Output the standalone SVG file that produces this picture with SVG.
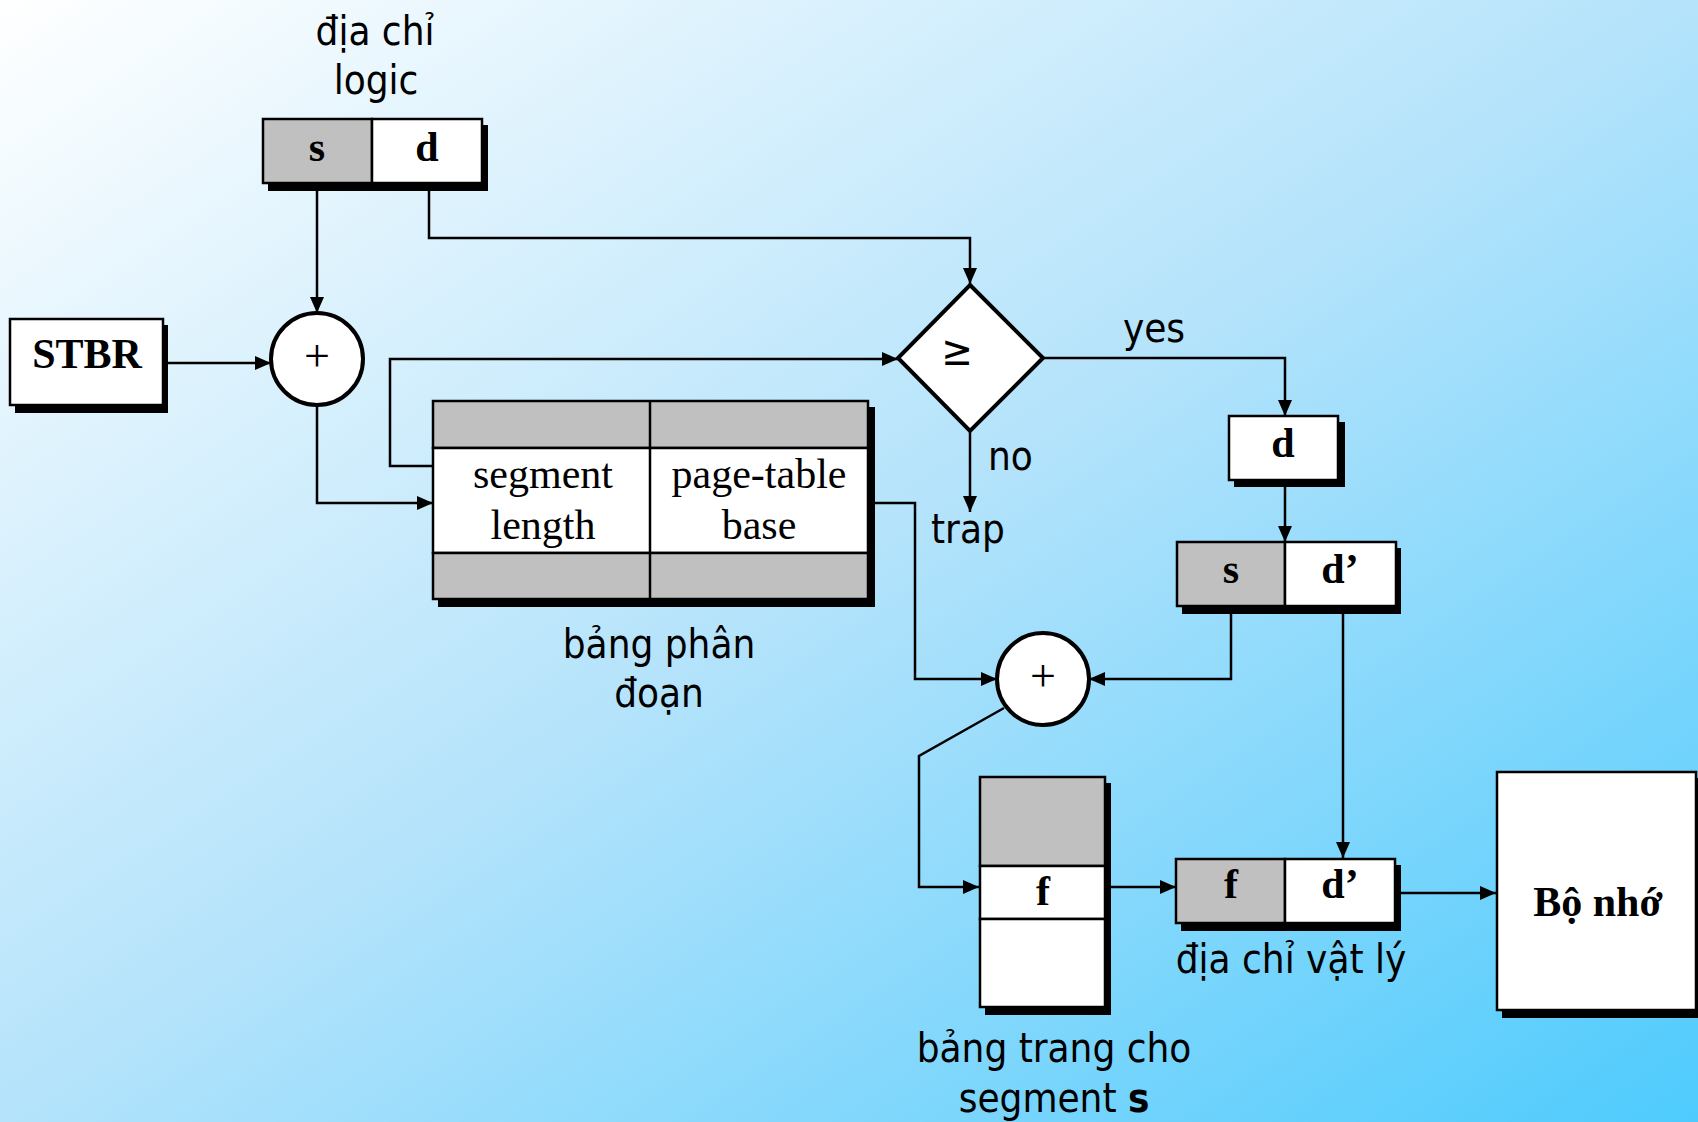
<svg xmlns="http://www.w3.org/2000/svg" width="1698" height="1122" viewBox="0 0 1698 1122">
<defs>
<linearGradient id="bg" x1="0" y1="0" x2="1" y2="1">
<stop offset="0" stop-color="#ffffff"/>
<stop offset="0.5" stop-color="#b4e3fb"/>
<stop offset="1" stop-color="#4ecbfd"/>
</linearGradient>
<marker id="arr" markerUnits="userSpaceOnUse" markerWidth="17" markerHeight="15" refX="16" refY="7" orient="auto">
<path d="M0,0 L16,7 L0,14 z" fill="#000"/>
</marker>
<style>
.sh{fill:#000}
.g{fill:#c0c0c0;stroke:#000;stroke-width:2.5}
.w{fill:#fff;stroke:#000;stroke-width:2.5}
.thick{fill:#fff;stroke:#000;stroke-width:4}
.bt{font-family:"Liberation Serif","Times New Roman",serif;font-weight:bold;font-size:42px;text-anchor:middle;fill:#000}
.rt{font-family:"Liberation Serif","Times New Roman",serif;font-size:42px;text-anchor:middle;fill:#000}
.lb{font-family:"DejaVu Sans Condensed","DejaVu Sans",sans-serif;font-stretch:condensed;font-size:40px;text-anchor:middle;fill:#000}
.ln{fill:none;stroke:#000;stroke-width:2.5;marker-end:url(#arr)}
.ln0{fill:none;stroke:#000;stroke-width:2.5}
</style>
</defs>
<rect x="0" y="0" width="1698" height="1122" fill="url(#bg)"/>

<g id="connectors">
<path class="ln" d="M317,186 V313"/>
<path class="ln" d="M163,363 H271"/>
<path class="ln" d="M429,186 V238 H970 V284"/>
<path class="ln" d="M317,405 V503 H433"/>
<path class="ln" d="M433,466 H390 V359 H898"/>
<path class="ln" d="M1043,358 H1285 V416"/>
<path class="ln" d="M970,431 V512"/>
<path class="ln" d="M1285,483 V542"/>
<path class="ln" d="M871,503 H915 V679 H997"/>
<path class="ln" d="M1231,609 V679 H1089"/>
<path class="ln" d="M1343,609 V858"/>
<path class="ln" d="M1004,708 L919,756 V887 H979"/>
<path class="ln" d="M1108,887 H1176"/>
<path class="ln" d="M1398,893 H1496"/>
</g>

<g id="logical-address">
<rect class="sh" x="268" y="125" width="220" height="66"/>
<rect class="g" x="263" y="119" width="109" height="64"/>
<rect class="w" x="372" y="119" width="110" height="64"/>
<text class="bt" x="317" y="161">s</text>
<text class="bt" x="427" y="161">d</text>
<text class="lb" x="375" y="45">địa chỉ</text>
<text class="lb" x="376" y="94">logic</text>
</g>

<g id="stbr">
<rect class="sh" x="15" y="325" width="153" height="88"/>
<rect class="w" x="10" y="319" width="153" height="86"/>
<text class="bt" x="87" y="368">STBR</text>
</g>

<g id="adder1">
<circle class="thick" cx="317" cy="359" r="46"/>
<text class="rt" x="317" y="371" style="font-size:46px">+</text>
</g>

<g id="segment-table">
<rect class="sh" x="438" y="407" width="437" height="200"/>
<rect class="g" x="433" y="401" width="435" height="47"/>
<rect class="w" x="433" y="448" width="435" height="105"/>
<rect class="g" x="433" y="553" width="435" height="46"/>
<line class="ln0" x1="650" y1="401" x2="650" y2="599"/>
<text class="rt" x="543" y="488">segment</text>
<text class="rt" x="543" y="539">length</text>
<text class="rt" x="759" y="488">page-table</text>
<text class="rt" x="759" y="539">base</text>
<text class="lb" x="659" y="658">bảng phân</text>
<text class="lb" x="659" y="707">đoạn</text>
</g>

<g id="compare">
<polygon class="thick" points="970,285 1043,358 970,431 898,358"/>
<text class="lb" x="957" y="365" style="font-size:42px">≥</text>
<text class="lb" x="1154" y="342">yes</text>
<text class="lb" x="988" y="470" style="text-anchor:start">no</text>
<text class="lb" x="931" y="543" style="text-anchor:start">trap</text>
</g>

<g id="d-box">
<rect class="sh" x="1234" y="422" width="111" height="65"/>
<rect class="w" x="1229" y="416" width="109" height="64"/>
<text class="bt" x="1283" y="457">d</text>
</g>

<g id="sd-box">
<rect class="sh" x="1182" y="548" width="219" height="66"/>
<rect class="g" x="1177" y="542" width="108" height="64"/>
<rect class="w" x="1285" y="542" width="111" height="64"/>
<text class="bt" x="1231" y="583">s</text>
<text class="bt" x="1340" y="583">d’</text>
</g>

<g id="adder2">
<circle class="thick" cx="1043" cy="679" r="46"/>
<text class="rt" x="1043" y="691" style="font-size:46px">+</text>
</g>

<g id="page-table">
<rect class="sh" x="985" y="783" width="126" height="232"/>
<rect class="g" x="980" y="777" width="125" height="89"/>
<rect class="w" x="980" y="866" width="125" height="53"/>
<rect class="w" x="980" y="919" width="125" height="88"/>
<text class="bt" x="1043" y="905">f</text>
<text class="lb" x="1054" y="1062">bảng trang cho</text>
<text class="lb" x="1054" y="1112">segment <tspan font-weight="bold">s</tspan></text>
</g>

<g id="physical-address">
<rect class="sh" x="1181" y="865" width="220" height="66"/>
<rect class="g" x="1176" y="859" width="109" height="64"/>
<rect class="w" x="1285" y="859" width="110" height="64"/>
<text class="bt" x="1231" y="898">f</text>
<text class="bt" x="1340" y="898">d’</text>
<text class="lb" x="1291" y="973">địa chỉ vật lý</text>
</g>

<g id="memory">
<rect class="sh" x="1502" y="778" width="200" height="240"/>
<rect class="w" x="1497" y="772" width="199" height="238"/>
<text class="bt" x="1598" y="916">Bộ nhớ</text>
</g>
</svg>
